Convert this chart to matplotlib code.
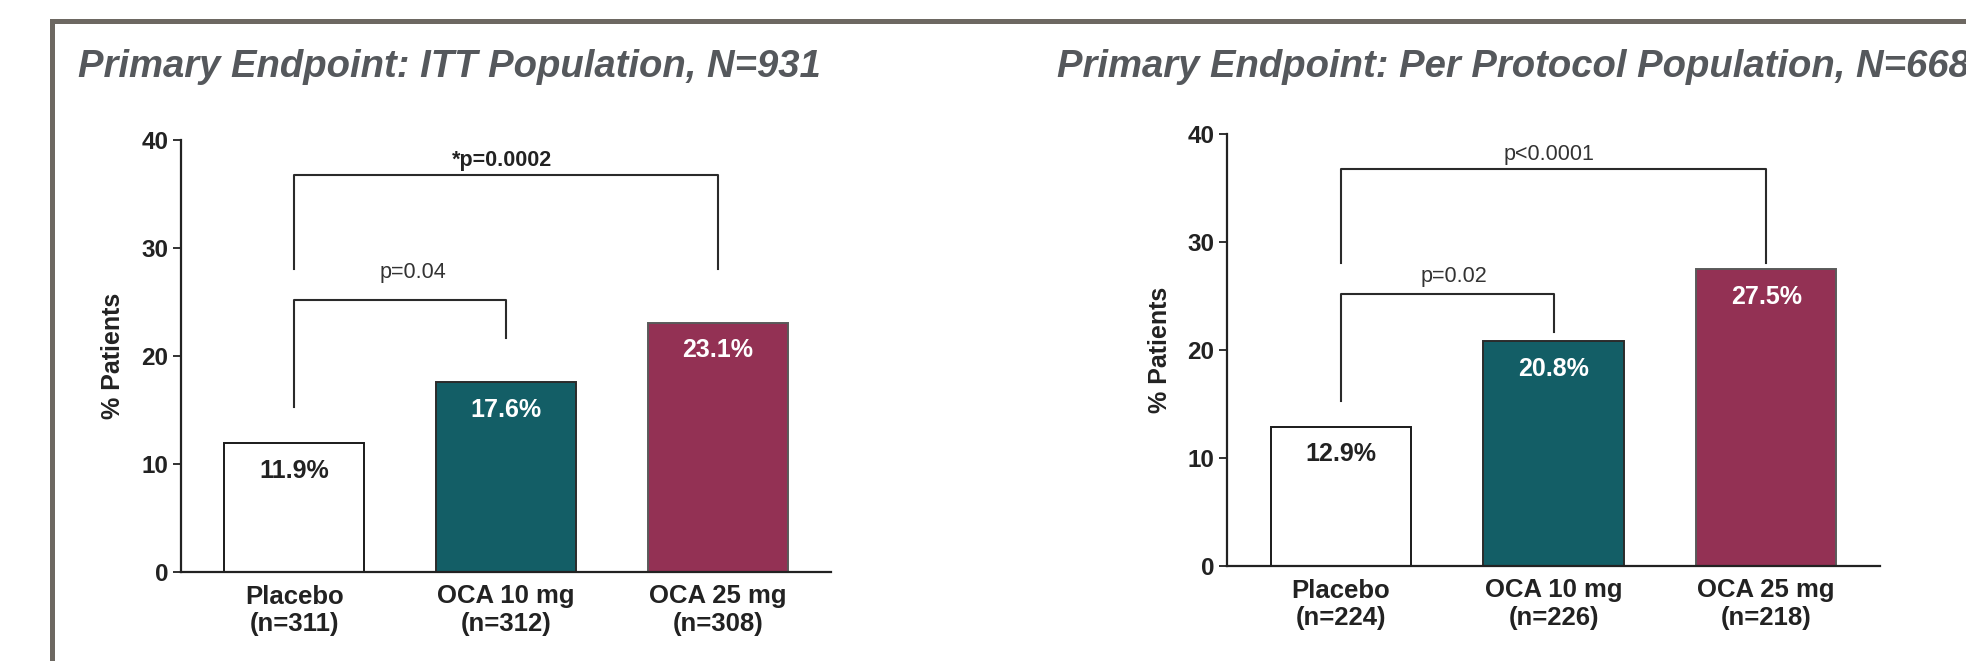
import matplotlib
matplotlib.use("Agg")
import matplotlib.pyplot as plt
from matplotlib.patches import Rectangle

plt.rcParams['font.family'] = ['Liberation Sans', 'DejaVu Sans']

# data
groups = ['Placebo', 'OCA 10 mg', 'OCA 25 mg']
itt_n = [311, 312, 308]
itt_pct = [11.9, 17.6, 23.1]
pp_n = [224, 226, 218]
pp_pct = [12.9, 20.8, 27.5]
itt_p = ['p=0.04', '*p=0.0002']
pp_p = ['p=0.02', 'p<0.0001']

face = ['white', '#135e66', '#933154']
edge = ['#1a1a1a', '#2b2b2b', '#5a5a5a']
title_col = '#55585c'
ink = '#222222'

W, H = 1966, 661
fig = plt.figure(figsize=(W / 100, H / 100), dpi=100)

# grey frame round the slide (cut off at right/bottom)
fig.patches.append(Rectangle((51.5 / W, -0.2), 1.5, (661 - 20.5) / H + 0.2,
                             transform=fig.transFigure, fill=False,
                             edgecolor='#6d6862', linewidth=3.6))


def panel(ax, pct, n, pvals, p_x):
    x = range(len(groups))
    ax.bar(x, pct, width=0.66, color=face, edgecolor=edge, linewidth=1.4, zorder=2)
    for xi, v in zip(x, pct):
        col = ink if xi == 0 else 'white'
        ax.annotate('%.1f%%' % v, (xi, v), xytext=(0, -20), textcoords='offset points',
                    ha='center', va='center', fontsize=18, fontweight='bold', color=col)
    ax.set_xticks(list(x))
    ax.set_xticklabels(['%s\n(n=%d)' % (g, k) for g, k in zip(groups, n)],
                       fontsize=18.5, fontweight='bold', linespacing=1.2, color=ink)
    ax.set_ylim(0, 40)
    ax.set_xlim(-0.535, 2.535)
    ax.set_yticks([0, 10, 20, 30, 40])
    for t in ax.get_yticklabels():
        t.set_fontweight('bold')
        t.set_fontsize(17.5)
        t.set_color(ink)
    ax.tick_params(axis='x', length=0, pad=9)
    ax.tick_params(axis='y', length=6, width=1.3, pad=3, color=ink)
    for s in ['top', 'right']:
        ax.spines[s].set_visible(False)
    for s in ['left', 'bottom']:
        ax.spines[s].set_linewidth(1.6)
        ax.spines[s].set_color(ink)
    ax.set_ylabel('% Patients', fontsize=18, fontweight='bold', color=ink)

    # significance brackets
    ax.plot([0, 0, 1, 1], [15.3, 25.2, 25.2, 21.7], color='#2a2a2a', lw=1.5, zorder=3)
    ax.text(p_x[0], p_x[1], pvals[0], ha='center', va='baseline', fontsize=15.5, color='#333333')
    ax.plot([0, 0, 2, 2], [28.1, 36.8, 36.8, 28.1], color='#2a2a2a', lw=1.5, zorder=3)
    ax.text(p_x[2], 37.6, pvals[1], ha='center', va='baseline', fontsize=15.5,
            color='#222222' if pvals[1].startswith('*') else '#333333',
            fontweight='bold' if pvals[1].startswith('*') else 'normal')


ax1 = fig.add_axes([181 / W, (H - 572) / H, (831 - 181) / W, (572 - 140) / H])
panel(ax1, itt_pct, itt_n, itt_p, (0.56, 27.2, 0.98))
ax1.yaxis.set_label_coords(-56 / 650, 0.5)
ax2 = fig.add_axes([1227 / W, (H - 566) / H, (1880 - 1227) / W, (566 - 134) / H])
panel(ax2, pp_pct, pp_n, pp_p, (0.53, 26.3, 0.98))
ax2.yaxis.set_label_coords(-55 / 653, 0.5)

fig.text(78 / W, (H - 77) / H, 'Primary Endpoint: ITT Population, N=931',
         fontsize=27.5, fontweight='bold', fontstyle='italic', color=title_col,
         ha='left', va='baseline')
fig.text(1057 / W, (H - 77) / H, 'Primary Endpoint: Per Protocol Population, N=668',
         fontsize=27.5, fontweight='bold', fontstyle='italic', color=title_col,
         ha='left', va='baseline')

fig.savefig('out.png', dpi=100)
